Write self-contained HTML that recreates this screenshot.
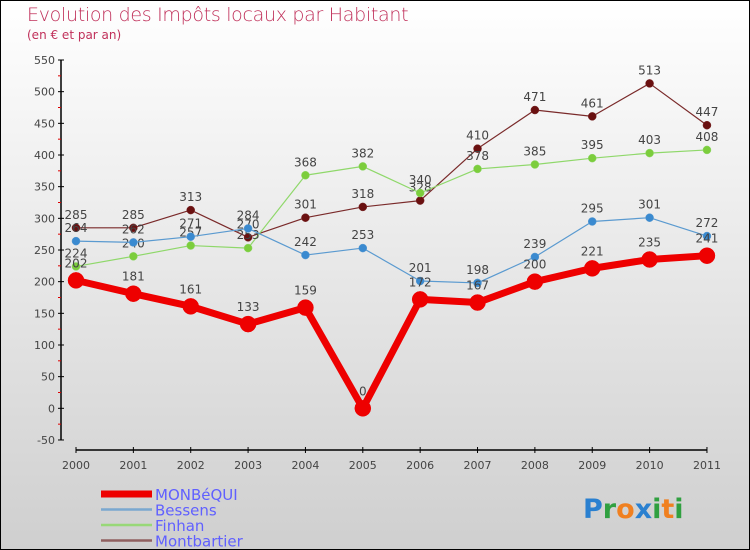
<!DOCTYPE html>
<html><head><meta charset="utf-8"><style>
html,body{margin:0;padding:0}
body{width:750px;height:550px;overflow:hidden;font-family:"DejaVu Sans","Liberation Sans",sans-serif}
#wrap{position:relative;width:748px;height:548px;border:1px solid #000;background:linear-gradient(#fff,#cfcfcf)}
.t{position:absolute;color:#c0305a}
</style></head><body>
<div id="wrap">
<div class="t" style="left:26px;top:3px;font-size:19px;font-weight:200;letter-spacing:-0.3px">Evolution des Impôts locaux par Habitant</div>
<div class="t" style="left:26px;top:27px;font-size:12px">(en € et par an)</div>
<svg id="c" width="748" height="548" style="position:absolute;left:0;top:0"></svg>
</div>
<script>
const years=[2000,2001,2002,2003,2004,2005,2006,2007,2008,2009,2010,2011];
const monbequi=[202,181,161,133,159,0,172,167,200,221,235,241];
const bessens=[264,262,271,284,242,253,201,198,239,295,301,272];
const finhan=[224,240,257,253,368,382,340,378,385,395,403,408];
const montbartier=[285,285,313,270,301,318,328,410,471,461,513,447];
const yTicks=[-50,0,50,100,150,200,250,300,350,400,450,500,550];
const NS="http://www.w3.org/2000/svg";
const svg=document.getElementById('c');
const X=i=>75+i*57.36;
const Y=v=>59+(550-v)*0.6333;
function mk(t,a,p){const e=document.createElementNS(NS,t);for(const k in a)e.setAttribute(k,a[k]);(p||svg).appendChild(e);return e;}
let ax=mk('line',{x1:60,y1:Y(550),x2:60,y2:Y(-50),stroke:'#000','stroke-width':1.5});


yTicks.forEach(v=>{
  mk('line',{x1:57,x2:63,y1:Y(v),y2:Y(v),stroke:'#000'});
  if(v<550) mk('line',{x1:57,x2:60,y1:Y(v+25),y2:Y(v+25),stroke:'#d00'});
  const t=mk('text',{x:54,y:Y(v)+4,'text-anchor':'end','font-size':11,fill:'#444'});t.textContent=v;
  
  
});
let xa=mk('line',{x1:X(0),y1:449,x2:X(11),y2:449,stroke:'#000','stroke-width':1.5});


years.forEach((y,i)=>{
  mk('line',{x1:X(i),x2:X(i),y1:446,y2:452,stroke:'#000'});
  const t=mk('text',{x:X(i),y:468,'text-anchor':'middle','font-size':11,fill:'#444'});t.textContent=y;
  
  
});
function series(d,col,dot,w,r,name){
  const g=mk('g',{});
  
  
  mk('polyline',{points:d.map((v,i)=>X(i)+','+Y(v)).join(' '),fill:'none',stroke:col,'stroke-width':w,'stroke-linejoin':'round'},g);
  d.forEach((v,i)=>{
    const c=mk('circle',{cx:X(i),cy:Y(v),r:r,fill:dot,stroke:col,'stroke-width':0.5},g);
    
    
    const t=mk('text',{x:X(i),y:Y(v)-r-5,'text-anchor':'middle','font-size':12,fill:'#444'},g);t.textContent=v;
  });
}
series(montbartier,'#7a2a2a','#6a1010',1.2,4,'montbartier');
series(finhan,'#8fd86a','#7ccd3c',1.2,4,'finhan');
series(bessens,'#5a9ad0','#3a8ad0',1.2,4,'bessens');
series(monbequi,'#ee0000','#ee0000',7,8,'monbequi');
const leg=[['MONBéQUI','#ee0000',7],['Bessens','#7aa8d0',2.5],['Finhan','#98d878',2.5],['Montbartier','#906060',2.5]];
leg.forEach((l,i)=>{
  const y=493+i*15.5;
  const g=mk('g',{});
  
  
  mk('line',{x1:100,x2:151,y1:y,y2:y,stroke:l[1],'stroke-width':l[2]},g);
  const t=mk('text',{x:154,y:y+6,'font-size':15,fill:'#6060ff'},g);t.textContent=l[0];
});
const logo=mk('text',{x:582,y:517,'font-size':27,'font-family':'DejaVu Sans, sans-serif','font-weight':'bold'});


[['P','#2a80d0'],['r','#30a040'],['o','#f08020'],['x','#2a80d0'],['i','#30a040'],['t','#f08020'],['i','#30a040']].forEach(p=>{const s=mk('tspan',{fill:p[1]},logo);s.textContent=p[0];});
</script>
</body></html>
